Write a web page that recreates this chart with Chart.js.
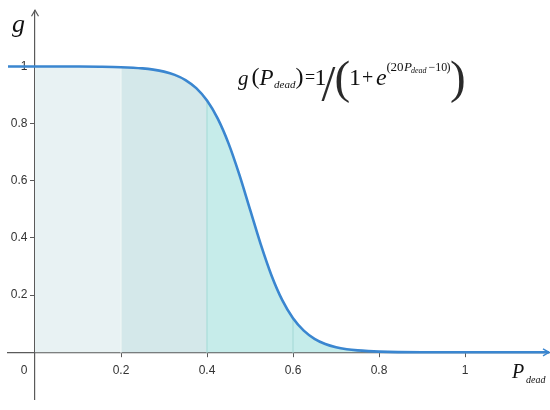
<!DOCTYPE html>
<html>
<head>
<meta charset="utf-8">
<script src="https://cdn.jsdelivr.net/npm/chart.js@4.4.1/dist/chart.umd.min.js"></script>
<style>
  html, body { margin: 0; padding: 0; background: #ffffff; }
  #wrap { width: 550px; height: 410px; position: relative; }
</style>
</head>
<body>
<div id="wrap"><canvas id="c" width="550" height="410"></canvas></div>
<script>
// P_dead values (x) and g values
const pValues = [-0.065, 0, 0.1, 0.15, 0.2, 0.25, 0.275, 0.3, 0.325, 0.35, 0.375, 0.4, 0.425, 0.45, 0.475, 0.5, 0.525, 0.55, 0.575, 0.6, 0.625, 0.65, 0.675, 0.7, 0.725, 0.75, 0.775, 0.8, 0.9, 1.0, 1.2];
const gValues = [1, 1, 0.9997, 0.9991, 0.9975, 0.9933, 0.989, 0.982, 0.9707, 0.9526, 0.9241, 0.8808, 0.8176, 0.7311, 0.6225, 0.5, 0.3775, 0.2689, 0.1824, 0.1192, 0.0759, 0.0474, 0.0293, 0.018, 0.011, 0.0067, 0.0041, 0.0025, 0.0003, 0, 0];
// shaded bands under the curve
const bandBounds = [0, 0.2, 0.4, 0.6, 1.2];
const bandColors = ['#e8f2f3', '#d4e8ea', '#c6ecea', '#c5ecea'];
const dividerColors = ['#eef6f6', '#a9dcd9', '#a9dcd9'];
// tick labels
const xTickValues = [0.2, 0.4, 0.6, 0.8, 1];
const yTickValues = [0.2, 0.4, 0.6, 0.8, 1];
const originLabel = '0';

const curvePoints = pValues.map((p, i) => ({ x: p, y: gValues[i] }));
const gAt = p => gValues[pValues.indexOf(p)];

const datasets = [];
datasets.push({
  data: curvePoints,
  borderColor: '#3a86d0',
  borderWidth: 2.6,
  pointRadius: 0,
  cubicInterpolationMode: 'monotone',
  fill: false,
  order: 0
});
for (let i = 1; i < bandBounds.length - 1; i++) {
  const b = bandBounds[i];
  datasets.push({
    data: [{ x: b, y: 0 }, { x: b, y: gAt(b) }],
    borderColor: dividerColors[i - 1],
    borderWidth: 1.2,
    pointRadius: 0,
    fill: false,
    order: 1
  });
}
for (let i = 0; i < bandBounds.length - 1; i++) {
  const a = bandBounds[i], b = bandBounds[i + 1];
  datasets.push({
    data: curvePoints.filter(pt => pt.x >= a && pt.x <= b),
    borderWidth: 0,
    borderColor: 'rgba(0,0,0,0)',
    backgroundColor: bandColors[i],
    pointRadius: 0,
    cubicInterpolationMode: 'monotone',
    fill: 'origin',
    order: 2
  });
}

const axisColor = '#5a5a5a';
const tickFont = { family: 'Liberation Sans, Arial, sans-serif', size: 12 };
const X_MIN = -0.0628, X_MAX = 1.1953, Y_MIN = -0.1661, Y_MAX = 1.1969;

const decor = {
  id: 'decor',
  afterDraw(chart) {
    const ctx = chart.ctx;
    const xs = chart.scales.x, ys = chart.scales.y;
    const ox = xs.getPixelForValue(0), oy = ys.getPixelForValue(0);
    const ca = chart.chartArea;
    ctx.save();
    // arrow heads
    ctx.strokeStyle = axisColor;
    ctx.lineWidth = 1.2;
    ctx.beginPath();
    ctx.moveTo(ox - 3.5, ca.top + 6); ctx.lineTo(ox, ca.top); ctx.lineTo(ox + 3.5, ca.top + 6);
    ctx.stroke();
    ctx.strokeStyle = '#3a86d0';
    ctx.lineWidth = 1.4;
    ctx.beginPath();
    ctx.moveTo(ca.right - 6, oy - 3.5); ctx.lineTo(ca.right, oy); ctx.lineTo(ca.right - 6, oy + 3.5);
    ctx.stroke();

    ctx.fillStyle = '#111';
    ctx.textBaseline = 'alphabetic';
    ctx.textAlign = 'left';
    const serif = 'Liberation Serif, Times New Roman, serif';
    const put = (t, font, x, y) => { ctx.font = font; ctx.fillText(t, x, y); };

    // axis titles
    put('g', 'italic 26px ' + serif, 12, 32);
    put('P', 'italic 20px ' + serif, 512, 378);
    put('dead', 'italic 10px ' + serif, 526, 383);

    // formula
    const b = 85;
    put('g', 'italic 21px ' + serif, 238, b);
    put('(', '24px ' + serif, 251.5, b - 1);
    put('P', 'italic 23px ' + serif, 259.5, b);
    put('dead', 'italic 11px ' + serif, 274, b + 3);
    put(')', '24px ' + serif, 295.5, b - 1);
    put('=', '18px ' + serif, 305, b - 2);
    put('1', '24px ' + serif, 314.5, b);
    ctx.fillStyle = '#2a2a2a';
    put('/', '50px ' + serif, 321.5, 100);
    put('(', '47px ' + serif, 334.5, 93);
    ctx.fillStyle = '#111';
    put('1', '24px ' + serif, 349, b);
    put('+', '20px ' + serif, 362, b - 1);
    put('e', 'italic 24px ' + serif, 376, b);
    put('(', '13px ' + serif, 386.5, 71);
    put('20', '13px ' + serif, 390.5, 71);
    put('P', 'italic 13px ' + serif, 404, 71);
    put('dead', 'italic 8px ' + serif, 411, 73);
    put('\u221210', '12px ' + serif, 428.5, 71);
    put(')', '12px ' + serif, 446.5, 71);
    ctx.fillStyle = '#2a2a2a';
    put(')', '47px ' + serif, 450, 93);
    ctx.restore();
  }
};

new Chart(document.getElementById('c'), {
  type: 'line',
  data: { datasets },
  plugins: [decor],
  options: {
    responsive: false,
    animation: false,
    devicePixelRatio: 1,
    layout: { padding: { left: 8, right: 1, top: 7, bottom: 5 } },
    plugins: { legend: { display: false }, tooltip: { enabled: false } },
    elements: { line: { borderCapStyle: 'round' } },
    scales: {
      x: {
        type: 'linear',
        min: X_MIN, max: X_MAX,
        position: { y: 0 },
        afterBuildTicks: s => { s.ticks = xTickValues.map(v => ({ value: v })); },
        ticks: { color: '#333', font: tickFont, padding: 7, maxRotation: 0, autoSkip: false,
                 callback: v => String(v) },
        grid: { drawOnChartArea: false, drawTicks: true, tickLength: 4, color: axisColor, lineWidth: 1 },
        border: { display: true, color: axisColor, width: 1.2 }
      },
      x0: {
        type: 'linear', axis: 'x',
        min: X_MIN, max: X_MAX,
        position: { y: 0 },
        afterBuildTicks: s => { s.ticks = [{ value: 0 }]; },
        ticks: { color: '#333', font: tickFont, padding: 11, labelOffset: -11, autoSkip: false,
                 callback: () => originLabel },
        grid: { display: false, drawTicks: false },
        border: { display: false }
      },
      y: {
        type: 'linear',
        min: Y_MIN, max: Y_MAX,
        position: { x: 0 },
        afterBuildTicks: s => { s.ticks = yTickValues.map(v => ({ value: v })); },
        ticks: { display: true, autoSkip: false, callback: () => '' },
        grid: { drawOnChartArea: false, drawTicks: true, tickLength: 4, color: axisColor, lineWidth: 1 },
        border: { display: true, color: axisColor, width: 1.2 }
      },
      yl: {
        type: 'linear', axis: 'y',
        min: Y_MIN, max: Y_MAX,
        position: { x: -0.0174 },
        afterBuildTicks: s => { s.ticks = yTickValues.map(v => ({ value: v })); },
        ticks: { color: '#333', font: tickFont, padding: 0, autoSkip: false,
                 callback: v => String(v) },
        grid: { display: false, drawTicks: false },
        border: { display: false }
      }
    }
  }
});
</script>
</body>
</html>
